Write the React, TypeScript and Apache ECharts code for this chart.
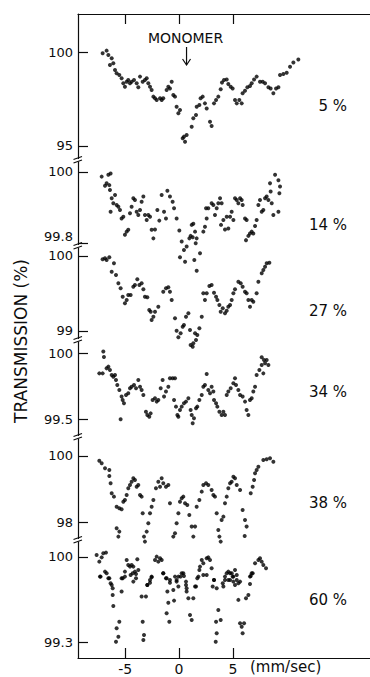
import React, { useEffect, useRef } from "react";
import * as echarts from "echarts";

// Velocity (mm/sec) vs transmission (%) for each concentration panel
const concentrationLabels = ["5 %", "14 %", "27 %", "34 %", "38 %", "60 %"];
const yTickValues = [[95, 100], [99.8, 100], [99, 100], [99.5, 100], [98, 100], [99.3, 100]];
const xTickValues = [-5, 0, 5];
const markerLabel = "MONOMER";
const markerVelocity = 0.7;

const spectrum5: number[][] = [
  [-7.09, 99.96], [-6.72, 100.1], [-6.56, 99.87], [-6.25, 99.69], [-6.41, 99.33], [-6.1, 99.42], [-5.94, 99.06],
  [-5.79, 98.89], [-5.54, 98.8], [-5.33, 98.62], [-5.17, 98.35], [-5.02, 98.17], [-4.86, 98.44], [-4.71, 98.53],
  [-4.55, 98.35], [-4.4, 98.44], [-4.18, 98.53], [-3.93, 98.35], [-3.78, 98.14], [-3.62, 98.71], [-3.37, 98.44],
  [-3.16, 98.53], [-3.0, 98.62], [-2.85, 98.35], [-2.69, 98.17], [-2.54, 97.99], [-2.38, 97.64], [-2.23, 97.55],
  [-2.07, 97.46], [-1.76, 97.55], [-1.61, 97.46], [-1.46, 97.55], [-1.15, 97.99], [-0.99, 98.17], [-0.84, 98.08],
  [-0.68, 98.44], [-0.53, 97.73], [-0.37, 97.64], [-0.22, 97.1], [-0.06, 96.75], [0.09, 96.92], [0.34, 95.41],
  [0.46, 95.5], [0.56, 95.23], [0.71, 95.59], [1.18, 96.03], [1.33, 96.48], [1.58, 96.66], [1.64, 97.1],
  [1.89, 97.19], [2.01, 97.55], [2.2, 97.64], [2.41, 97.28], [2.57, 97.01], [2.88, 96.3], [3.03, 96.07],
  [3.25, 97.28], [3.44, 97.46], [3.65, 97.64], [3.87, 98.03], [3.99, 98.39], [4.18, 98.53], [4.43, 98.56],
  [4.58, 98.31], [4.8, 98.17], [4.98, 98.08], [5.2, 97.46], [5.36, 97.28], [5.6, 97.46], [5.82, 97.28],
  [5.91, 97.82], [6.13, 97.96], [6.35, 98.14], [6.59, 98.21], [6.75, 98.35], [6.97, 98.56], [7.21, 98.71],
  [7.52, 98.44], [7.77, 98.44], [7.99, 98.35], [8.3, 98.14], [8.51, 98.08], [8.76, 97.82], [9.01, 98.08],
  [9.23, 98.14], [9.38, 98.8], [9.69, 98.85], [10.0, 98.92], [10.31, 99.24], [10.62, 99.46], [11.08, 99.63]
];

const spectrum14: number[][] = [
  [-7.18, 99.987], [-6.87, 99.961], [-6.72, 99.968], [-6.56, 99.992], [-6.35, 99.996], [-6.47, 99.963], [-6.41, 99.949],
  [-6.25, 99.926], [-6.35, 99.888], [-6.1, 99.912], [-5.94, 99.935], [-5.79, 99.907], [-5.63, 99.902], [-5.48, 99.893],
  [-5.33, 99.869], [-5.17, 99.874], [-5.02, 99.823], [-4.86, 99.832], [-4.71, 99.837], [-4.55, 99.884], [-4.4, 99.902],
  [-4.24, 99.926], [-4.09, 99.921], [-3.93, 99.888], [-3.78, 99.879], [-3.62, 99.893], [-3.47, 99.916], [-3.31, 99.931],
  [-3.16, 99.879], [-3.0, 99.865], [-2.85, 99.879], [-2.69, 99.874], [-2.54, 99.837], [-2.38, 99.813], [-2.23, 99.838],
  [-2.01, 99.893], [-1.83, 99.863], [-1.61, 99.935], [-1.39, 99.888], [-1.21, 99.869], [-1.08, 99.947], [-0.84, 99.931],
  [-0.59, 99.916], [-0.46, 99.898], [-0.22, 99.869], [0.03, 99.835], [0.25, 99.804], [0.09, 99.76], [0.46, 99.78],
  [0.56, 99.747], [0.71, 99.79], [0.96, 99.813], [1.18, 99.851], [1.33, 99.854], [1.08, 99.82], [1.27, 99.816],
  [1.49, 99.832], [1.64, 99.813], [1.55, 99.799], [1.42, 99.752], [1.64, 99.722], [1.95, 99.771], [2.26, 99.832],
  [2.41, 99.846], [2.57, 99.869], [2.51, 99.898], [2.72, 99.898], [3.03, 99.912], [3.19, 99.907], [3.34, 99.879],
  [3.5, 99.898], [3.65, 99.912], [3.81, 99.926], [3.96, 99.912], [3.9, 99.851], [4.12, 99.865], [4.27, 99.838],
  [4.43, 99.874], [4.58, 99.841], [4.74, 99.874], [4.89, 99.888], [5.05, 99.865], [5.2, 99.926], [5.36, 99.921],
  [5.51, 99.912], [5.67, 99.926], [5.82, 99.921], [5.91, 99.907], [6.13, 99.869], [6.28, 99.865], [6.22, 99.808],
  [6.44, 99.82], [6.59, 99.827], [6.75, 99.832], [6.9, 99.827], [7.06, 99.848], [7.21, 99.865], [7.37, 99.907],
  [7.52, 99.921], [7.68, 99.888], [7.83, 99.893], [7.99, 99.926], [8.14, 99.931], [8.3, 99.921], [8.45, 99.968],
  [8.51, 99.945], [8.61, 99.912], [8.76, 99.879], [8.92, 99.992], [9.23, 99.977], [9.38, 99.959], [9.32, 99.94],
  [9.23, 99.888]
];

const spectrum27: number[][] = [
  [-7.09, 99.956], [-6.87, 99.969], [-6.72, 99.947], [-6.47, 99.982], [-6.25, 99.791], [-6.04, 99.902], [-5.85, 99.747],
  [-5.63, 99.636], [-5.42, 99.569], [-5.23, 99.458], [-5.02, 99.369], [-4.86, 99.413], [-4.71, 99.48], [-4.49, 99.48],
  [-4.24, 99.591], [-4.09, 99.613], [-3.87, 99.689], [-3.68, 99.613], [-3.47, 99.636], [-3.31, 99.556], [-3.16, 99.458],
  [-2.94, 99.449], [-2.76, 99.28], [-2.63, 99.258], [-2.54, 99.147], [-2.38, 99.191], [-2.23, 99.258], [-1.92, 99.324],
  [-1.46, 99.524], [-1.21, 99.569], [-0.99, 99.582], [-0.84, 99.524], [-0.68, 99.413], [-0.37, 99.169], [-0.22, 99.004],
  [-0.06, 98.916], [0.15, 98.969], [0.34, 99.058], [0.46, 99.08], [0.65, 99.191], [0.87, 99.236], [1.02, 99.013],
  [1.08, 98.813], [1.27, 98.791], [1.33, 98.836], [1.49, 98.969], [1.58, 98.88], [1.7, 98.947], [1.89, 99.036],
  [2.11, 99.191], [2.26, 99.502], [2.41, 99.413], [2.57, 99.502], [2.82, 99.6], [3.03, 99.613], [3.25, 99.511],
  [3.44, 99.458], [3.56, 99.413], [3.75, 99.347], [3.87, 99.258], [4.06, 99.302], [4.27, 99.236], [4.43, 99.271],
  [4.58, 99.324], [4.74, 99.347], [4.89, 99.413], [5.05, 99.502], [5.2, 99.556], [5.51, 99.658], [5.73, 99.636],
  [5.91, 99.591], [6.13, 99.524], [6.28, 99.502], [6.44, 99.413], [6.59, 99.324], [6.75, 99.413], [6.9, 99.391],
  [7.21, 99.502], [7.37, 99.658], [7.68, 99.769], [7.83, 99.813], [7.99, 99.858], [8.14, 99.902], [8.39, 99.911]
];

const spectrum34: number[][] = [
  [-7.03, 100.013], [-6.97, 99.972], [-6.56, 99.899], [-7.4, 99.848], [-7.09, 99.848], [-6.72, 99.886], [-6.41, 99.874],
  [-6.25, 99.836], [-6.1, 99.823], [-5.94, 99.836], [-5.85, 99.798], [-5.73, 99.76], [-5.54, 99.722], [-5.42, 99.5],
  [-5.33, 99.672], [-5.23, 99.646], [-5.11, 99.621], [-4.92, 99.684], [-4.71, 99.697], [-4.55, 99.735], [-4.4, 99.747],
  [-4.18, 99.76], [-3.99, 99.735], [-3.78, 99.798], [-3.62, 99.747], [-3.47, 99.722], [-3.31, 99.684], [-3.07, 99.558],
  [-2.94, 99.533], [-2.76, 99.52], [-2.63, 99.545], [-2.45, 99.646], [-2.23, 99.659], [-2.07, 99.634], [-1.92, 99.646],
  [-1.7, 99.735], [-1.52, 99.798], [-1.39, 99.672], [-1.21, 99.71], [-0.99, 99.747], [-0.84, 99.811], [-0.59, 99.811],
  [-0.37, 99.811], [-0.46, 99.646], [-0.28, 99.596], [-0.15, 99.533], [-0.06, 99.52], [0.09, 99.571], [0.25, 99.596],
  [0.46, 99.621], [0.65, 99.634], [0.87, 99.659], [1.08, 99.571], [1.18, 99.533], [1.27, 99.47], [1.39, 99.508],
  [1.58, 99.584], [1.7, 99.596], [1.89, 99.646], [2.11, 99.684], [2.26, 99.747], [2.41, 99.76], [2.57, 99.843],
  [2.72, 99.722], [2.88, 99.697], [3.03, 99.747], [3.19, 99.71], [3.25, 99.646], [3.44, 99.621], [3.56, 99.596],
  [3.75, 99.558], [3.96, 99.533], [4.12, 99.558], [4.27, 99.533], [4.43, 99.684], [4.58, 99.71], [4.8, 99.735],
  [5.05, 99.773], [5.2, 99.811], [5.29, 99.76], [5.51, 99.722], [5.67, 99.684], [5.91, 99.672], [6.13, 99.634],
  [6.28, 99.571], [6.44, 99.533], [6.59, 99.646], [6.75, 99.659], [6.9, 99.71], [7.06, 99.747], [7.21, 99.836],
  [7.46, 99.874], [7.68, 99.912], [7.83, 99.848], [7.99, 99.924], [8.14, 99.949], [8.3, 99.912], [7.68, 99.97],
  [7.89, 99.949]
];

const spectrum38: number[][] = [
  [-7.4, 99.859], [-7.18, 99.779], [-6.87, 99.628], [-6.47, 99.397], [-6.47, 99.578], [-6.35, 99.176], [-6.25, 98.874],
  [-6.04, 98.774], [-5.79, 98.472], [-5.54, 98.422], [-5.33, 98.392], [-5.79, 97.819], [-5.54, 97.719], [-5.63, 97.568],
  [-5.17, 98.623], [-5.02, 98.673], [-4.86, 98.824], [-4.71, 99.025], [-4.55, 99.126], [-4.4, 99.226], [-4.24, 99.327],
  [-4.09, 99.276], [-3.93, 99.075], [-3.78, 99.126], [-3.62, 98.824], [-3.47, 98.774], [-3.37, 98.271], [-3.25, 97.568],
  [-3.16, 97.417], [-3.0, 97.719], [-2.85, 97.97], [-2.69, 98.271], [-2.54, 98.472], [-2.38, 98.673], [-2.14, 99.025],
  [-1.92, 99.226], [-1.76, 99.075], [-1.61, 99.327], [-1.46, 99.176], [-1.21, 99.075], [-0.99, 99.126], [-0.84, 98.573],
  [-0.53, 97.568], [-0.37, 97.668], [-0.22, 97.97], [-0.06, 98.271], [0.09, 98.623], [0.25, 98.724], [0.4, 98.774],
  [0.56, 98.573], [0.77, 98.523], [0.96, 98.221], [1.18, 97.87], [1.33, 97.568], [1.49, 97.87], [1.64, 98.472],
  [1.89, 98.673], [2.11, 98.925], [2.26, 99.126], [2.51, 99.176], [2.72, 99.126], [3.03, 98.975], [3.19, 98.824],
  [3.34, 98.774], [3.5, 98.271], [3.65, 97.769], [3.75, 97.568], [3.87, 97.417], [3.96, 98.07], [4.12, 98.171],
  [4.27, 98.573], [4.43, 98.774], [4.58, 99.025], [4.74, 99.176], [4.89, 99.226], [5.05, 99.377], [5.2, 99.327],
  [5.36, 99.126], [5.67, 98.975], [5.91, 98.372], [6.13, 98.07], [6.28, 97.87], [6.1, 97.588], [6.66, 98.874],
  [6.84, 99.075], [6.97, 99.276], [7.06, 99.477], [7.21, 99.578], [7.37, 99.678], [7.83, 99.879], [8.14, 99.899],
  [8.45, 99.93], [8.76, 99.829]
];

const spectrum60: number[][] = [
  [-7.65, 100.016], [-7.4, 99.962], [-7.18, 99.997], [-7.03, 100.03], [-6.78, 100.036], [-7.34, 99.839], [-6.87, 99.88],
  [-6.56, 99.825], [-6.35, 99.784], [-6.16, 99.743], [-5.33, 99.825], [-5.02, 99.88], [-4.86, 99.975], [-4.71, 99.934],
  [-4.55, 99.921], [-4.4, 99.934], [-4.24, 99.921], [-4.09, 99.88], [-3.87, 99.981], [-3.78, 99.893], [-4.3, 99.866],
  [-3.99, 99.825], [-2.94, 99.77], [-2.69, 99.811], [-2.54, 99.839], [-2.23, 99.975], [-2.07, 100.003], [-1.92, 99.962],
  [-1.76, 99.989], [-1.61, 99.975], [-1.46, 99.866], [-1.15, 99.825], [-0.84, 99.811], [-0.37, 99.839], [-0.22, 99.811],
  [-0.06, 99.757], [0.15, 99.839], [0.4, 99.866], [0.65, 99.798], [0.71, 99.743], [1.49, 99.757], [1.7, 99.825],
  [1.89, 99.893], [1.95, 99.921], [2.11, 99.975], [2.26, 99.948], [2.57, 99.989], [2.72, 99.997], [2.88, 99.975],
  [3.03, 99.907], [3.25, 99.811], [3.5, 99.743], [4.06, 99.784], [4.27, 99.839], [4.43, 99.866], [4.58, 99.88],
  [4.74, 99.811], [4.89, 99.866], [5.05, 99.839], [5.2, 99.893], [5.36, 99.811], [5.51, 99.784], [6.59, 99.839],
  [6.75, 99.866], [7.06, 99.948], [7.37, 99.975], [7.52, 99.989], [7.68, 99.962], [7.83, 99.934], [8.08, 99.907],
  [-7.28, 99.839], [-6.72, 99.866], [-6.47, 99.825], [-6.25, 99.77], [-6.16, 99.688], [-6.1, 99.598], [-5.79, 99.415],
  [-5.85, 99.305], [-5.63, 99.346], [-5.54, 99.469], [-5.33, 99.716], [-5.23, 99.825], [-5.02, 99.839], [-4.49, 99.852],
  [-4.24, 99.798], [-3.99, 99.861], [-3.47, 99.675], [-3.37, 99.469], [-3.25, 99.36], [-3.31, 99.319], [-3.07, 99.675],
  [-2.94, 99.77], [-2.69, 99.789], [-2.54, 99.833], [-1.46, 99.866], [-1.21, 99.825], [-1.08, 99.716], [-0.99, 99.625],
  [-1.15, 99.538], [-0.9, 99.469], [-0.84, 99.789], [-0.53, 99.729], [-0.46, 99.642], [-0.22, 99.798], [-0.06, 99.839],
  [0.25, 99.866], [0.46, 99.844], [0.65, 99.77], [0.71, 99.716], [0.87, 99.661], [1.02, 99.524], [1.18, 99.483],
  [1.33, 99.661], [1.58, 99.757], [1.8, 99.839], [2.26, 99.852], [2.57, 99.852], [3.13, 99.757], [3.25, 99.811],
  [3.44, 99.469], [3.5, 99.374], [3.41, 99.305], [3.65, 99.565], [3.87, 99.483], [4.12, 99.757], [4.27, 99.811],
  [4.58, 99.811], [4.74, 99.866], [4.98, 99.839], [5.05, 99.798], [5.2, 99.77], [5.36, 99.852], [5.67, 99.798],
  [5.51, 99.648], [5.67, 99.456], [5.82, 99.428], [5.91, 99.374], [6.04, 99.456], [6.22, 99.661], [6.44, 99.688],
  [6.59, 99.778], [6.66, 99.844], [6.84, 99.866]
];

const spectra = [spectrum5, spectrum14, spectrum27, spectrum34, spectrum38, spectrum60];

// layout (pixels) and axis ranges per panel
const panelTop = [14, 160, 246, 340, 437, 540];
const panelBottom = [160, 246, 340, 437, 540, 658];
const yMin = [94.251, 99.7915, 98.88, 99.366, 97.466, 99.171];
const yMax = [102.059, 100.0338, 100.1333, 100.1008, 100.573, 100.1395];
const labelY = [106, 225, 311, 392, 503, 600];
const xMin = -9.378;
const xMax = 17.734;

const FONT = "DejaVu Sans";
const INK = "#0d0d0d";

export default function App() {
  const ref = useRef<HTMLDivElement>(null);
  useEffect(() => {
    if (!ref.current) return;
    const chart = echarts.init(ref.current, null, { renderer: "svg" });
    const grids = panelTop.map((t, i) => ({
      left: 78,
      right: 0,
      top: t,
      height: panelBottom[i] - t,
      containLabel: false,
    }));
    const xAxes = spectra.map((_, i) => {
      const base: any = {
        type: "value",
        gridIndex: i,
        min: xMin,
        max: xMax,
        splitLine: { show: false },
      };
      if (i === 0) {
        return {
          ...base,
          position: "top",
          axisLine: { show: true, onZero: false, lineStyle: { color: INK, width: 1.2 } },
          axisTick: { show: true, inside: true, length: 10, customValues: xTickValues, lineStyle: { color: INK, width: 1.2 } },
          axisLabel: { show: false },
        };
      }
      if (i === spectra.length - 1) {
        return {
          ...base,
          position: "bottom",
          axisLine: { show: true, onZero: false, lineStyle: { color: INK, width: 1.2 } },
          axisTick: { show: true, inside: true, length: 10, customValues: xTickValues, lineStyle: { color: INK, width: 1.2 } },
          axisLabel: {
            show: true,
            customValues: xTickValues,
            margin: 4,
            fontFamily: FONT,
            fontSize: 14,
            color: INK,
            formatter: (v: number) => String(v),
          },
        };
      }
      return { ...base, show: false };
    });
    const yAxes = spectra.map((_, i) => ({
      type: "value",
      gridIndex: i,
      position: "left",
      min: yMin[i],
      max: yMax[i],
      splitLine: { show: false },
      axisLine: { show: true, onZero: false, lineStyle: { color: INK, width: 1.2 } },
      axisTick: { show: true, inside: true, length: 10, customValues: yTickValues[i], lineStyle: { color: INK, width: 1.2 } },
      axisLabel: {
        show: true,
        customValues: yTickValues[i],
        margin: 5,
        fontFamily: FONT,
        fontSize: 13,
        color: INK,
        formatter: (v: number) => (i === 1 && v < 100 ? "{up|" + v + "}" : String(v)),
        rich: { up: { fontFamily: FONT, fontSize: 13, color: INK, padding: [0, 0, 12, 0] } },
      },
    }));
    const series = spectra.map((d, i) => ({
      type: "scatter",
      xAxisIndex: i,
      yAxisIndex: i,
      data: d,
      symbol: "circle",
      symbolSize: 4,
      clip: false,
      itemStyle: { color: "#000" },
      silent: true,
    }));

    const graphics: any[] = [];
    // axis breaks
    panelBottom.slice(0, 5).forEach((b) => {
      graphics.push({ type: "rect", shape: { x: 74, y: b - 1, width: 9, height: 2.5 }, style: { fill: "#fff" }, z: 100 });
      graphics.push({ type: "line", shape: { x1: 73.5, y1: b - 0.5, x2: 82, y2: b - 3.5 }, style: { stroke: INK, lineWidth: 1.1 }, z: 101 });
      graphics.push({ type: "line", shape: { x1: 73.5, y1: b + 3, x2: 82, y2: b }, style: { stroke: INK, lineWidth: 1.1 }, z: 101 });
    });
    concentrationLabels.forEach((t, i) => {
      graphics.push({
        type: "text",
        x: 347,
        y: labelY[i],
        style: { text: t, align: "right", verticalAlign: "middle", fontFamily: FONT, fontSize: 15, fill: INK },
      });
    });
    // monomer marker
    const mx = 179 + markerVelocity * 10.77;
    graphics.push({
      type: "text",
      x: mx - 1,
      y: 38,
      style: { text: markerLabel, align: "center", verticalAlign: "middle", fontFamily: FONT, fontSize: 14, fill: INK },
    });
    graphics.push({ type: "line", shape: { x1: mx, y1: 47, x2: mx, y2: 65 }, style: { stroke: INK, lineWidth: 1.2 } });
    graphics.push({
      type: "polyline",
      shape: { points: [[mx - 4, 59], [mx, 65], [mx + 4, 59]] },
      style: { stroke: INK, lineWidth: 1.2, fill: "none" },
    });
    graphics.push({
      type: "text",
      x: 250,
      y: 667,
      style: { text: "(mm/sec)", align: "left", verticalAlign: "middle", fontFamily: FONT, fontSize: 15, fill: INK },
    });
    graphics.push({
      type: "text",
      x: 21,
      y: 341,
      rotation: Math.PI / 2,
      style: { text: "TRANSMISSION (%)", align: "center", verticalAlign: "middle", fontFamily: FONT, fontSize: 17, fill: INK },
    });

    chart.setOption({
      animation: false,
      backgroundColor: "#fff",
      grid: grids,
      xAxis: xAxes,
      yAxis: yAxes,
      series,
      graphic: graphics,
    });
    return () => chart.dispose();
  }, []);
  return <div ref={ref} style={{ position: "fixed", left: 0, top: 0, width: 370, height: 677 }} />;
}
